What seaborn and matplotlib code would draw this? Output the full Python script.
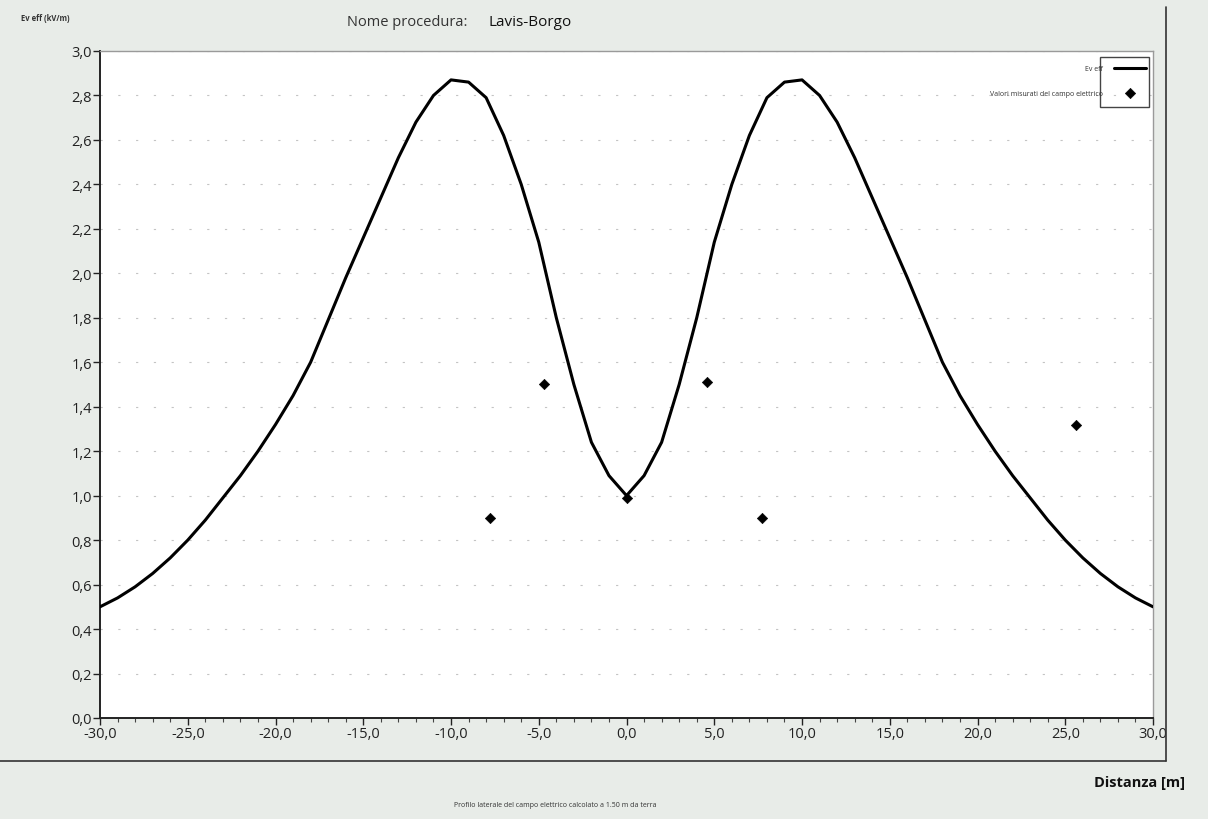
import numpy as np
import pandas as pd
import matplotlib.pyplot as plt
from matplotlib.lines import Line2D
from matplotlib.patches import Rectangle
from matplotlib.ticker import MultipleLocator, FuncFormatter
import seaborn as sns

# Calculated field profile (every 1 m, from -30 m to +30 m)
distanza = list(range(-30, 31))
ev_eff = [
    0.50, 0.54, 0.59, 0.65, 0.72, 0.80, 0.89, 0.99, 1.09, 1.20,
    1.32, 1.45, 1.60, 1.79, 1.98, 2.16, 2.34, 2.52, 2.68, 2.80,
    2.87, 2.86, 2.79, 2.62, 2.40, 2.14, 1.80, 1.50, 1.24, 1.09,
    1.00,
    1.09, 1.24, 1.50, 1.80, 2.14, 2.40, 2.62, 2.79, 2.86, 2.87,
    2.80, 2.68, 2.52, 2.34, 2.16, 1.98, 1.79, 1.60, 1.45, 1.32,
    1.20, 1.09, 0.99, 0.89, 0.80, 0.72, 0.65, 0.59, 0.54, 0.50,
]

# Measured points
misure_x = [-7.8, -4.7, 0.0, 4.6, 7.7, 25.6]
misure_y = [0.90, 1.50, 0.99, 1.51, 0.90, 1.32]

y_ticks = np.arange(0, 3.01, 0.2)
x_ticks = np.arange(-30, 31, 5)

df_curve = pd.DataFrame({"Distanza": distanza, "Ev eff": ev_eff})
df_pts = pd.DataFrame({"Distanza": misure_x, "Ev eff": misure_y})

sns.set_theme(style="white")
plt.rcParams["font.family"] = ["Open Sans", "DejaVu Sans"]

fig = plt.figure(figsize=(12.08, 8.2), dpi=100)
fig.patch.set_facecolor("#e8ece8")
ax = fig.add_axes([0.0828, 0.1232, 0.8717, 0.8134])
ax.set_facecolor("white")

# faint dotted grid like the scanned original
for yv in y_ticks[1:]:
    ax.axhline(yv, color="#c4c4c4", lw=0.8, ls=(0, (2, 14)), zorder=0)

sns.lineplot(data=df_curve, x="Distanza", y="Ev eff", ax=ax, color="black",
             lw=2.2, label="Ev eff", zorder=3)
sns.scatterplot(data=df_pts, x="Distanza", y="Ev eff", ax=ax, marker="D",
                s=28, color="black", edgecolor="black",
                label="Valori misurati del campo elettrico", zorder=4)

ax.set_xlim(-30, 30)
ax.set_ylim(0, 3.0)
ax.set_xticks(x_ticks)
ax.set_yticks(y_ticks)
ax.xaxis.set_minor_locator(MultipleLocator(1))
comma = FuncFormatter(lambda v, p: f"{v:.1f}".replace(".", ","))
ax.xaxis.set_major_formatter(comma)
ax.yaxis.set_major_formatter(comma)
ax.tick_params(axis="both", which="major", direction="out", length=5, width=1,
               colors="#222222", labelsize=10.5, pad=1, bottom=True, left=True)
ax.tick_params(axis="x", which="minor", direction="out", length=3, width=0.8,
               colors="#444444", bottom=True)
ax.set_xlabel("")
ax.set_ylabel("")

for s in ["left", "bottom"]:
    ax.spines[s].set_color("#222222")
    ax.spines[s].set_linewidth(1.4)
ax.spines["top"].set_color("#9a9a9a")
ax.spines["top"].set_linewidth(1.0)
ax.spines["right"].set_color("#9a9a9a")
ax.spines["right"].set_linewidth(1.0)

leg = ax.legend(loc="upper right", bbox_to_anchor=(0.997, 0.985), fontsize=5,
                frameon=False, markerfirst=False, handlelength=4.5,
                handletextpad=1.6, borderaxespad=0.2, labelspacing=2.6)
for t in leg.get_texts():
    t.set_color("#333333")
# small box around the legend symbols
ax.add_patch(Rectangle((0.950, 0.916), 0.046, 0.075, transform=ax.transAxes,
                       fill=False, edgecolor="#444444", lw=1.0, zorder=5))

# outer frame lines of the report
fig.add_artist(Line2D([0.0, 0.965], [0.071, 0.071], color="#333333", lw=1.2))
fig.add_artist(Line2D([0.965, 0.965], [0.071, 0.99], color="#333333", lw=1.2))

fig.text(0.017, 0.978, "Ev eff (kV/m)", fontsize=5.5, fontweight="bold",
         color="#333333", va="center", ha="left")
fig.text(0.287, 0.972, "Nome procedura:", fontsize=10.5, color="#333333",
         va="center", ha="left")
fig.text(0.404, 0.972, "Lavis-Borgo", fontsize=11, color="#111111",
         va="center", ha="left")
fig.text(0.981, 0.045, "Distanza [m]", fontsize=10.5, fontweight="bold",
         color="#111111", va="center", ha="right")
fig.text(0.46, 0.018, "Profilo laterale del campo elettrico calcolato a 1.50 m da terra",
         fontsize=5, color="#333333", va="center", ha="center")

fig.savefig("out.png", dpi=100, facecolor=fig.get_facecolor())
